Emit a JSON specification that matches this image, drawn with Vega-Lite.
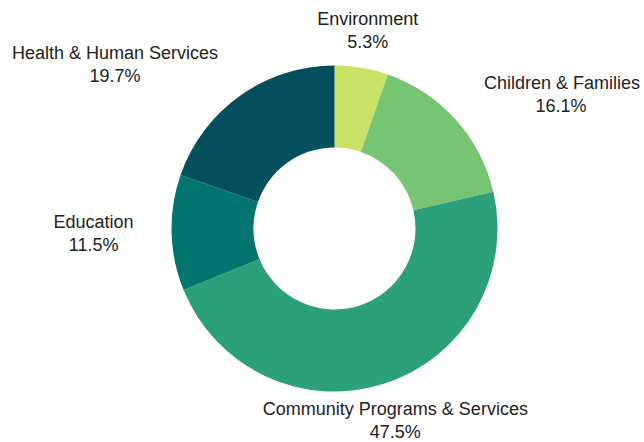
{
  "$schema": "https://vega.github.io/schema/vega-lite/v6.json",
  "width": 644,
  "height": 442,
  "autosize": {"type": "fit", "contains": "padding"},
  "padding": {"left": 24, "top": 15, "right": 0, "bottom": 0},
  "background": "white",
  "view": {"stroke": null},
  "data": {
    "values": [
      {"category": "Environment", "share": 0.053, "rank": 1},
      {"category": "Children & Families", "share": 0.161, "rank": 2},
      {"category": "Community Programs & Services", "share": 0.475, "rank": 3},
      {"category": "Education", "share": 0.115, "rank": 4},
      {"category": "Health & Human Services", "share": 0.197, "rank": 5}
    ]
  },
  "encoding": {
    "theta": {"field": "share", "type": "quantitative", "stack": true},
    "order": {"field": "rank", "type": "quantitative"}
  },
  "layer": [
    {
      "mark": {"type": "arc", "innerRadius": 81, "outerRadius": 163},
      "encoding": {
        "color": {
          "field": "category",
          "type": "nominal",
          "scale": {
            "domain": ["Environment", "Children & Families", "Community Programs & Services", "Education", "Health & Human Services"],
            "range": ["#c9e265", "#77c472", "#2ba07b", "#03756f", "#034f5b"]
          },
          "legend": null
        }
      }
    },
    {
      "mark": {
        "type": "text",
        "radius": 201,
        "dy": -10.5,
        "fontSize": 18,
        "font": "Liberation Sans",
        "fill": "#222222",
        "baseline": "middle",
        "align": {"expr": "datum.category === 'Children & Families' ? 'left' : (datum.category === 'Education' || datum.category === 'Health & Human Services') ? 'right' : 'center'"}
      },
      "encoding": {
        "text": {"field": "category", "type": "nominal"},
        "detail": {"field": "category", "type": "nominal"}
      }
    },
    {
      "mark": {
        "type": "text",
        "radius": 201,
        "dy": 12.5,
        "fontSize": 18,
        "font": "Liberation Sans",
        "fill": "#222222",
        "baseline": "middle",
        "align": "center",
        "dx": {"expr": "datum.category === 'Children & Families' ? 77 : datum.category === 'Education' ? -40 : datum.category === 'Health & Human Services' ? -103 : 0"}
      },
      "encoding": {
        "text": {"field": "share", "type": "quantitative", "format": ".1%"},
        "detail": {"field": "category", "type": "nominal"}
      }
    }
  ]
}
